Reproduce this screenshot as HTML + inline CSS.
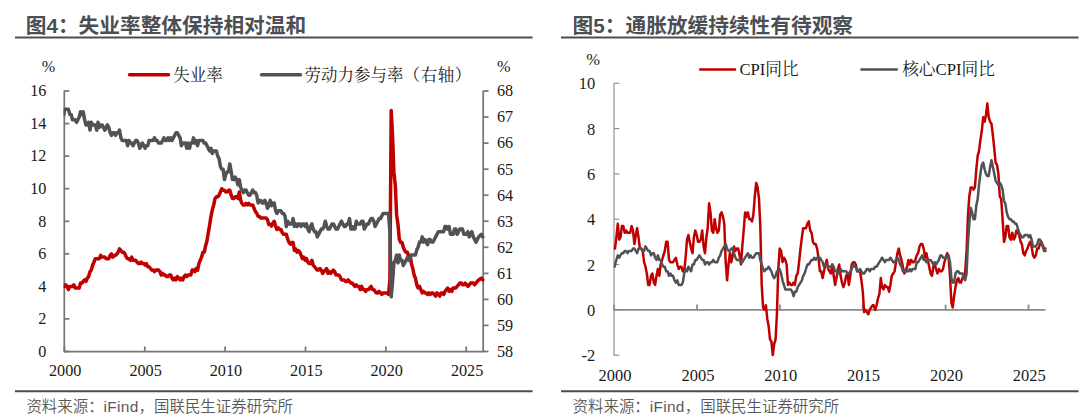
<!DOCTYPE html>
<html lang="zh"><head><meta charset="utf-8"><title>图4 图5</title>
<style>
html,body{margin:0;padding:0;background:#fff;}
body{width:1080px;height:419px;position:relative;overflow:hidden;font-family:"Liberation Sans","Noto Sans CJK SC",sans-serif;}
.title{position:absolute;top:11px;font-size:20.7px;font-weight:bold;color:#4b4f53;line-height:30px;white-space:nowrap;letter-spacing:0;}
.rule{position:absolute;height:2px;background:#4a4e52;}
.src{position:absolute;top:396.5px;font-size:15.45px;font-weight:350;color:#595959;line-height:20px;white-space:nowrap;}
.lt{letter-spacing:0.3px;}
svg{position:absolute;left:0;top:0;}
svg text{font-family:"Liberation Serif","Noto Serif CJK SC",serif;font-size:16.2px;fill:#1a1a1a;}
svg text.b{font-size:16.5px;}
svg text.c{font-size:16.7px;}
</style></head><body>
<div class="title" style="left:25.7px">图4：失业率整体保持相对温和</div>
<div class="title" style="left:572.6px">图5：通胀放缓持续性有待观察</div>
<div class="src" style="left:26.4px">资料来源：<span class="lt">iFind</span>，国联民生证券研究所</div>
<div class="src" style="left:572.6px">资料来源：<span class="lt">iFind</span>，国联民生证券研究所</div>
<svg width="1080" height="419" viewBox="0 0 1080 419">
<g stroke="#4a4e52" stroke-width="2" fill="none">
<line x1="15" y1="37.45" x2="532.6" y2="37.45"/><line x1="561" y1="37.45" x2="1078.5" y2="37.45"/>
<line x1="15" y1="391.3" x2="532.6" y2="391.3"/><line x1="561" y1="391.3" x2="1078.5" y2="391.3"/>
</g>
<g stroke="#767676" stroke-width="1.75" fill="none">
<line x1="64.3" y1="90.5" x2="64.3" y2="352.2"/><line x1="483.2" y1="90.5" x2="483.2" y2="352.2"/><line x1="64" y1="351.5" x2="484" y2="351.5"/>
<line x1="64.3" y1="351.5" x2="69.3" y2="351.5"/><line x1="64.3" y1="318.9" x2="69.3" y2="318.9"/><line x1="64.3" y1="286.4" x2="69.3" y2="286.4"/><line x1="64.3" y1="253.8" x2="69.3" y2="253.8"/><line x1="64.3" y1="221.3" x2="69.3" y2="221.3"/><line x1="64.3" y1="188.7" x2="69.3" y2="188.7"/><line x1="64.3" y1="156.1" x2="69.3" y2="156.1"/><line x1="64.3" y1="123.6" x2="69.3" y2="123.6"/><line x1="64.3" y1="91.0" x2="69.3" y2="91.0"/><line x1="483.5" y1="351.5" x2="488.5" y2="351.5"/><line x1="483.5" y1="325.4" x2="488.5" y2="325.4"/><line x1="483.5" y1="299.4" x2="488.5" y2="299.4"/><line x1="483.5" y1="273.4" x2="488.5" y2="273.4"/><line x1="483.5" y1="247.3" x2="488.5" y2="247.3"/><line x1="483.5" y1="221.2" x2="488.5" y2="221.2"/><line x1="483.5" y1="195.2" x2="488.5" y2="195.2"/><line x1="483.5" y1="169.2" x2="488.5" y2="169.2"/><line x1="483.5" y1="143.1" x2="488.5" y2="143.1"/><line x1="483.5" y1="117.0" x2="488.5" y2="117.0"/><line x1="483.5" y1="91.0" x2="488.5" y2="91.0"/><line x1="64.4" y1="351.5" x2="64.4" y2="346.5"/><line x1="144.8" y1="351.5" x2="144.8" y2="346.5"/><line x1="225.1" y1="351.5" x2="225.1" y2="346.5"/><line x1="305.5" y1="351.5" x2="305.5" y2="346.5"/><line x1="385.9" y1="351.5" x2="385.9" y2="346.5"/><line x1="466.2" y1="351.5" x2="466.2" y2="346.5"/>
</g>
<g stroke="#8e8e8e" stroke-width="1.15" fill="none">
<line x1="614" y1="83" x2="614" y2="355.7"/>
<line x1="614" y1="355.2" x2="619.3" y2="355.2"/><line x1="614" y1="309.9" x2="619.3" y2="309.9"/><line x1="614" y1="264.6" x2="619.3" y2="264.6"/><line x1="614" y1="219.2" x2="619.3" y2="219.2"/><line x1="614" y1="173.9" x2="619.3" y2="173.9"/><line x1="614" y1="128.6" x2="619.3" y2="128.6"/><line x1="614" y1="83.3" x2="619.3" y2="83.3"/>
</g>
<g stroke="#8a8a8a" stroke-width="1.8" fill="none">
<line x1="613.5" y1="309.8" x2="1045.5" y2="309.8"/>
<line x1="614.2" y1="309.8" x2="614.2" y2="304.6"/><line x1="697.1" y1="309.8" x2="697.1" y2="304.6"/><line x1="779.9" y1="309.8" x2="779.9" y2="304.6"/><line x1="862.8" y1="309.8" x2="862.8" y2="304.6"/><line x1="945.6" y1="309.8" x2="945.6" y2="304.6"/><line x1="1028.5" y1="309.8" x2="1028.5" y2="304.6"/>
</g>
<g>
<text x="46.4" y="356.8" text-anchor="end">0</text><text x="46.4" y="324.2" text-anchor="end">2</text><text x="46.4" y="291.7" text-anchor="end">4</text><text x="46.4" y="259.1" text-anchor="end">6</text><text x="46.4" y="226.6" text-anchor="end">8</text><text x="46.4" y="194.0" text-anchor="end">10</text><text x="46.4" y="161.4" text-anchor="end">12</text><text x="46.4" y="128.9" text-anchor="end">14</text><text x="46.4" y="96.3" text-anchor="end">16</text><text x="497" y="356.8">58</text><text x="497" y="330.8">59</text><text x="497" y="304.7">60</text><text x="497" y="278.7">61</text><text x="497" y="252.6">62</text><text x="497" y="226.6">63</text><text x="497" y="200.5">64</text><text x="497" y="174.5">65</text><text x="497" y="148.4">66</text><text x="497" y="122.3">67</text><text x="497" y="96.3">68</text><text x="65.2" y="376" text-anchor="middle">2000</text><text x="145.6" y="376" text-anchor="middle">2005</text><text x="225.9" y="376" text-anchor="middle">2010</text><text x="306.3" y="376" text-anchor="middle">2015</text><text x="386.7" y="376" text-anchor="middle">2020</text><text x="467.1" y="376" text-anchor="middle">2025</text>
<text x="41.7" y="72">%</text><text x="496.9" y="72">%</text>
<text class="b" x="595.3" y="361.2" text-anchor="end">-2</text><text class="b" x="595.3" y="315.9" text-anchor="end">0</text><text class="b" x="595.3" y="270.6" text-anchor="end">2</text><text class="b" x="595.3" y="225.2" text-anchor="end">4</text><text class="b" x="595.3" y="179.9" text-anchor="end">6</text><text class="b" x="595.3" y="134.6" text-anchor="end">8</text><text class="b" x="595.3" y="89.3" text-anchor="end">10</text><text class="b" x="615.0" y="380.5" text-anchor="middle">2000</text><text class="b" x="697.9" y="380.5" text-anchor="middle">2005</text><text class="b" x="780.7" y="380.5" text-anchor="middle">2010</text><text class="b" x="863.5" y="380.5" text-anchor="middle">2015</text><text class="b" x="946.4" y="380.5" text-anchor="middle">2020</text><text class="b" x="1029.2" y="380.5" text-anchor="middle">2025</text>
<text class="b" x="586.3" y="65.2">%</text>
<text class="b" x="173.3" y="80.7">失业率</text>
<text class="b" x="304.6" y="80.7">劳动力参与率<tspan letter-spacing="0.55">（右轴）</tspan></text>
<text class="c" x="739.4" y="75.3">CPI同比</text>
<text class="c" x="902.2" y="75.3">核心CPI同比</text>
</g>
<defs><clipPath id="k1"><rect x="63.6" y="40" width="440" height="330"/></clipPath><clipPath id="k2"><rect x="613.6" y="40" width="460" height="330"/></clipPath></defs>
<g fill="none" stroke-linejoin="round" stroke-linecap="round">
<line x1="129.5" y1="74.8" x2="168.5" y2="74.8" stroke="#c00000" stroke-width="3.5"/>
<line x1="261.5" y1="74.8" x2="300.5" y2="74.8" stroke="#505256" stroke-width="3.5"/>
<line x1="700.2" y1="69.6" x2="735" y2="69.6" stroke="#c00000" stroke-width="2.5"/>
<line x1="861.4" y1="69.6" x2="896.8" y2="69.6" stroke="#505256" stroke-width="2.5"/>
<polyline clip-path="url(#k1)" stroke="#c00000" stroke-width="3.5" points="64.0,286.4 64.4,286.4 65.7,284.8 67.1,286.4 68.4,289.6 69.8,286.4 71.1,286.4 72.5,286.4 73.8,284.8 75.2,288.0 76.5,288.0 77.9,288.0 79.2,288.0 80.5,283.1 81.9,283.1 83.2,281.5 84.6,279.9 85.9,281.5 87.3,278.2 88.6,276.6 90.0,271.7 91.3,270.1 92.6,265.2 94.0,262.0 95.3,258.7 96.7,258.7 98.0,258.7 99.4,258.7 100.7,255.4 102.1,257.1 103.4,257.1 104.8,257.1 106.1,258.7 107.4,258.7 108.8,258.7 110.1,255.4 111.5,253.8 112.8,257.1 114.2,255.4 115.5,255.4 116.9,253.8 118.2,252.2 119.5,248.9 120.9,250.6 122.2,252.2 123.6,252.2 124.9,253.8 126.3,257.1 127.6,258.7 129.0,258.7 130.3,260.3 131.7,257.1 133.0,260.3 134.3,260.3 135.7,260.3 137.0,262.0 138.4,263.6 139.7,263.6 141.1,262.0 142.4,263.6 143.8,263.6 145.1,265.2 146.4,263.6 147.8,266.8 149.1,266.8 150.5,268.5 151.8,270.1 153.2,270.1 154.5,271.7 155.9,270.1 157.2,270.1 158.6,270.1 159.9,271.7 161.2,275.0 162.6,273.4 163.9,275.0 165.3,275.0 166.6,276.6 168.0,276.6 169.3,275.0 170.7,275.0 172.0,278.2 173.3,279.9 174.7,278.2 176.0,279.9 177.4,276.6 178.7,278.2 180.1,279.9 181.4,278.2 182.8,279.9 184.1,276.6 185.5,275.0 186.8,276.6 188.1,275.0 189.5,275.0 190.8,275.0 192.2,270.1 193.5,270.1 194.9,271.7 196.2,268.5 197.6,270.1 198.9,263.6 200.2,260.3 201.6,257.1 202.9,252.2 204.3,252.2 205.6,245.7 207.0,240.8 208.3,232.7 209.7,224.5 211.0,216.4 212.3,209.9 213.7,205.0 215.0,198.5 216.4,196.8 217.7,196.8 219.1,195.2 220.4,192.0 221.8,188.7 223.1,190.3 224.5,190.3 225.8,192.0 227.1,192.0 228.5,190.3 229.8,190.3 231.2,195.2 232.5,198.5 233.9,198.5 235.2,196.8 236.6,196.8 237.9,198.5 239.3,192.0 240.6,200.1 241.9,203.4 243.3,205.0 244.6,205.0 246.0,203.4 247.3,205.0 248.7,203.4 250.0,205.0 251.4,205.0 252.7,205.0 254.0,208.2 255.4,211.5 256.7,213.1 258.1,216.4 259.4,216.4 260.8,218.0 262.1,218.0 263.5,218.0 264.8,218.0 266.1,218.0 267.5,219.6 268.8,224.5 270.2,224.5 271.5,226.1 272.9,222.9 274.2,221.3 275.6,226.1 276.9,229.4 278.3,227.8 279.6,229.4 280.9,229.4 282.3,232.7 283.6,234.3 285.0,234.3 286.3,234.3 287.7,239.2 289.0,242.4 290.4,244.1 291.7,242.4 293.1,242.4 294.4,250.6 295.7,248.9 297.1,252.2 298.4,250.6 299.8,252.2 301.1,255.4 302.5,258.7 303.8,257.1 305.2,260.3 306.5,258.7 307.8,262.0 309.2,263.6 310.5,263.6 311.9,260.3 313.2,265.2 314.6,266.8 315.9,268.5 317.3,270.1 318.6,270.1 320.0,268.5 321.3,270.1 322.6,273.4 324.0,271.7 325.3,270.1 326.7,268.5 328.0,273.4 329.4,271.7 330.7,273.4 332.1,271.7 333.4,270.1 334.7,271.7 336.1,275.0 337.4,275.0 338.8,275.0 340.1,276.6 341.5,279.9 342.8,279.9 344.2,279.9 345.5,281.5 346.9,281.5 348.2,279.9 349.5,281.5 350.9,283.1 352.2,283.1 353.6,284.8 354.9,286.4 356.3,284.8 357.6,286.4 359.0,286.4 360.3,289.6 361.6,286.4 363.0,289.6 364.3,289.6 365.7,291.3 367.0,289.6 368.4,289.6 369.7,288.0 371.1,286.4 372.4,289.6 373.8,289.6 375.1,291.3 376.4,292.9 377.8,292.9 379.1,291.3 380.5,292.9 381.8,294.5 383.2,292.9 384.5,292.9 385.9,292.9 387.2,292.9 388.5,294.5 389.9,279.9 391.2,110.6 392.6,136.6 393.9,172.4 395.3,185.4 396.6,214.7 398.0,224.5 399.3,239.2 400.6,242.4 402.0,242.4 403.3,247.3 404.7,250.6 406.0,252.2 407.4,252.2 408.7,257.1 410.1,255.4 411.4,263.6 412.8,268.5 414.1,275.0 415.4,278.2 416.8,284.8 418.1,288.0 419.5,286.4 420.8,289.6 422.2,292.9 423.5,291.3 424.9,292.9 426.2,292.9 427.6,294.5 428.9,292.9 430.2,294.5 431.6,292.9 432.9,292.9 434.3,294.5 435.6,296.1 437.0,292.9 438.3,294.5 439.7,296.1 441.0,292.9 442.3,292.9 443.7,294.5 445.0,291.3 446.4,289.6 447.7,288.0 449.1,291.3 450.4,289.6 451.8,291.3 453.1,288.0 454.5,288.0 455.8,288.0 457.1,286.4 458.5,284.8 459.8,283.1 461.2,283.1 462.5,284.8 463.9,284.8 465.2,283.1 466.6,284.8 467.9,286.4 469.2,284.8 470.6,283.1 471.9,283.1 473.3,283.1 474.6,284.8 476.0,283.1 477.3,281.5 478.7,279.9 480.0,279.1 481.4,278.2 482.7,279.9"/>
<polyline clip-path="url(#k1)" stroke="#505256" stroke-width="3.5" points="64.0,114.4 64.4,109.2 65.7,109.2 67.1,109.2 68.4,109.2 69.8,114.4 71.1,114.4 72.5,119.7 73.8,119.7 75.2,119.7 76.5,122.3 77.9,119.7 79.2,117.0 80.5,111.8 81.9,114.4 83.2,111.8 84.6,119.7 85.9,124.9 87.3,124.9 88.6,122.3 90.0,130.1 91.3,122.3 92.6,124.9 94.0,124.9 95.3,124.9 96.7,130.1 98.0,122.3 99.4,127.5 100.7,124.9 102.1,124.9 103.4,127.5 104.8,130.1 106.1,127.5 107.4,124.9 108.8,127.5 110.1,132.7 111.5,135.3 112.8,132.7 114.2,132.7 115.5,135.3 116.9,132.7 118.2,132.7 119.5,130.1 120.9,137.9 122.2,140.5 123.6,140.5 124.9,140.5 126.3,140.5 127.6,145.7 129.0,140.5 130.3,143.1 131.7,143.1 133.0,145.7 134.3,143.1 135.7,140.5 137.0,140.5 138.4,143.1 139.7,148.3 141.1,145.7 142.4,143.1 143.8,145.7 145.1,148.3 146.4,145.7 147.8,145.7 149.1,140.5 150.5,140.5 151.8,140.5 153.2,140.5 154.5,137.9 155.9,140.5 157.2,140.5 158.6,143.1 159.9,143.1 161.2,143.1 162.6,140.5 163.9,137.9 165.3,140.5 166.6,140.5 168.0,137.9 169.3,140.5 170.7,137.9 172.0,140.5 173.3,137.9 174.7,135.3 176.0,132.7 177.4,132.7 178.7,135.3 180.1,137.9 181.4,145.7 182.8,143.1 184.1,143.1 185.5,143.1 186.8,148.3 188.1,143.1 189.5,148.3 190.8,143.1 192.2,143.1 193.5,137.9 194.9,143.1 196.2,140.5 197.6,145.7 198.9,140.5 200.2,140.5 201.6,140.5 202.9,140.5 204.3,143.1 205.6,143.1 207.0,145.7 208.3,148.3 209.7,150.9 211.0,148.3 212.3,153.5 213.7,150.9 215.0,150.9 216.4,150.9 217.7,156.1 219.1,158.7 220.4,166.5 221.8,169.2 223.1,169.2 224.5,179.6 225.8,174.4 227.1,171.8 228.5,171.8 229.8,163.9 231.2,171.8 232.5,179.6 233.9,179.6 235.2,177.0 236.6,179.6 237.9,184.8 239.3,179.6 240.6,187.4 241.9,190.0 243.3,192.6 244.6,190.0 246.0,190.0 247.3,192.6 248.7,195.2 250.0,195.2 251.4,192.6 252.7,190.0 254.0,192.6 255.4,192.6 256.7,195.2 258.1,203.0 259.4,200.4 260.8,200.4 262.1,203.0 263.5,203.0 264.8,200.4 266.1,203.0 267.5,208.2 268.8,205.6 270.2,200.4 271.5,205.6 272.9,203.0 274.2,203.0 275.6,210.8 276.9,213.4 278.3,210.8 279.6,210.8 280.9,210.8 282.3,213.4 283.6,213.4 285.0,216.0 286.3,226.5 287.7,221.2 289.0,223.9 290.4,223.9 291.7,223.9 293.1,218.6 294.4,226.5 295.7,223.9 297.1,226.5 298.4,223.9 299.8,223.9 301.1,226.5 302.5,223.9 303.8,223.9 305.2,226.5 306.5,223.9 307.8,229.1 309.2,231.7 310.5,226.5 311.9,223.9 313.2,229.1 314.6,231.7 315.9,231.7 317.3,236.9 318.6,234.3 320.0,231.7 321.3,229.1 322.6,229.1 324.0,226.5 325.3,221.2 326.7,226.5 328.0,229.1 329.4,229.1 330.7,226.5 332.1,223.9 333.4,223.9 334.7,226.5 336.1,229.1 337.4,229.1 338.8,226.5 340.1,223.9 341.5,221.2 342.8,223.9 344.2,226.5 345.5,226.5 346.9,223.9 348.2,223.9 349.5,218.6 350.9,229.1 352.2,226.5 353.6,229.1 354.9,229.1 356.3,221.2 357.6,223.9 359.0,223.9 360.3,223.9 361.6,221.2 363.0,221.2 364.3,229.1 365.7,226.5 367.0,223.9 368.4,223.9 369.7,221.2 371.1,218.6 372.4,218.6 373.8,221.2 375.1,226.5 376.4,223.9 377.8,221.2 379.1,218.6 380.5,218.6 381.8,216.0 383.2,213.4 384.5,213.4 385.9,213.4 387.2,213.4 388.5,213.4 389.9,231.7 391.2,296.8 392.6,281.2 393.9,262.9 395.3,260.3 396.6,255.1 398.0,262.9 399.3,255.1 400.6,260.3 402.0,260.3 403.3,265.5 404.7,262.9 406.0,260.3 407.4,257.7 408.7,260.3 410.1,257.7 411.4,255.1 412.8,255.1 414.1,255.1 415.4,255.1 416.8,249.9 418.1,247.3 419.5,242.1 420.8,242.1 422.2,236.9 423.5,242.1 424.9,239.5 426.2,242.1 427.6,244.7 428.9,239.5 430.2,239.5 431.6,242.1 432.9,242.1 434.3,239.5 435.6,236.9 437.0,234.3 438.3,231.7 439.7,231.7 441.0,231.7 442.3,231.7 443.7,231.7 445.0,226.5 446.4,226.5 447.7,229.1 449.1,226.5 450.4,234.3 451.8,234.3 453.1,234.3 454.5,229.1 455.8,229.1 457.1,234.3 458.5,231.7 459.8,229.1 461.2,229.1 462.5,229.1 463.9,234.3 465.2,234.3 466.6,234.3 467.9,231.7 469.2,236.9 470.6,234.3 471.9,231.7 473.3,236.9 474.6,239.5 476.0,242.1 477.3,239.5 478.7,236.9 480.0,235.6 481.4,234.3 482.7,236.9"/>
<polyline clip-path="url(#k2)" stroke="#c00000" stroke-width="2.5" points="614.6,248.6 615.0,248.6 616.4,237.3 617.8,223.7 619.2,239.6 620.5,237.3 621.9,226.0 623.3,226.0 624.7,232.8 626.1,230.5 627.5,232.8 628.8,232.8 630.2,232.8 631.6,226.0 633.0,230.5 634.4,244.1 635.8,235.0 637.1,228.2 638.5,237.3 639.9,248.6 641.3,248.6 642.7,250.9 644.1,262.2 645.5,266.7 646.8,273.5 648.2,284.9 649.6,284.9 651.0,275.8 652.4,273.5 653.8,282.6 655.1,284.9 656.5,275.8 657.9,269.0 659.3,275.8 660.7,264.5 662.1,259.9 663.4,255.4 664.8,250.9 666.2,241.8 667.6,241.8 669.0,259.9 670.4,262.2 671.8,262.2 673.1,262.2 674.5,259.9 675.9,257.7 677.3,264.5 678.7,269.0 680.1,266.7 681.4,266.7 682.8,271.3 684.2,271.3 685.6,257.7 687.0,239.6 688.4,235.0 689.7,241.8 691.1,248.6 692.5,253.2 693.9,237.3 695.3,230.5 696.7,235.0 698.0,241.8 699.4,241.8 700.8,239.6 702.2,230.5 703.6,246.4 705.0,253.2 706.4,237.3 707.7,228.2 709.1,203.3 710.5,212.4 711.9,230.5 713.3,232.8 714.7,219.2 716.0,228.2 717.4,232.8 718.8,230.5 720.2,214.6 721.6,212.4 723.0,216.9 724.3,223.7 725.7,262.2 727.1,280.3 728.5,264.5 729.9,253.2 731.3,262.2 732.7,255.4 734.0,246.4 735.4,250.9 736.8,248.6 738.2,248.6 739.6,255.4 741.0,264.5 742.3,246.4 743.7,230.5 745.1,212.4 746.5,216.9 747.9,212.4 749.3,219.2 750.6,219.2 752.0,221.4 753.4,214.6 754.8,196.5 756.2,182.9 757.6,187.4 759.0,198.8 760.3,226.0 761.7,284.9 763.1,307.5 764.5,309.8 765.9,305.3 767.3,318.9 768.6,325.7 770.0,339.3 771.4,341.5 772.8,355.1 774.2,343.8 775.6,339.3 776.9,314.3 778.3,269.0 779.7,248.6 781.1,250.9 782.5,262.2 783.9,257.7 785.3,259.9 786.6,264.5 788.0,284.9 789.4,282.6 790.8,284.9 792.2,284.9 793.6,282.6 794.9,284.9 796.3,275.8 797.7,273.5 799.1,262.2 800.5,248.6 801.9,237.3 803.2,228.2 804.6,228.2 806.0,228.2 807.4,223.7 808.8,221.4 810.2,230.5 811.6,232.8 812.9,241.8 814.3,244.1 815.7,244.1 817.1,248.6 818.5,257.7 819.9,271.3 821.2,271.3 822.6,278.1 824.0,271.3 825.4,264.5 826.8,259.9 828.2,269.0 829.5,271.3 830.9,273.5 832.3,264.5 833.7,275.8 835.1,284.9 836.5,278.1 837.9,269.0 839.2,264.5 840.6,275.8 842.0,282.6 843.4,287.1 844.8,282.6 846.2,275.8 847.5,273.5 848.9,284.9 850.3,275.8 851.7,264.5 853.1,262.2 854.5,262.2 855.8,264.5 857.2,271.3 858.6,271.3 860.0,271.3 861.4,280.3 862.8,291.7 864.1,312.1 865.5,309.8 866.9,312.1 868.3,314.3 869.7,309.8 871.1,307.5 872.5,305.3 873.8,305.3 875.2,309.8 876.6,305.3 878.0,298.5 879.4,293.9 880.8,278.1 882.1,287.1 883.5,289.4 884.9,284.9 886.3,287.1 887.7,287.1 889.1,291.7 890.4,284.9 891.8,275.8 893.2,273.5 894.6,271.3 896.0,262.2 897.4,253.2 898.8,248.6 900.1,255.4 901.5,259.9 902.9,266.7 904.3,273.5 905.7,271.3 907.1,266.7 908.4,259.9 909.8,264.5 911.2,259.9 912.6,262.2 914.0,262.2 915.4,259.9 916.7,255.4 918.1,253.2 919.5,246.4 920.9,244.1 922.3,244.1 923.7,248.6 925.1,257.7 926.4,253.2 927.8,259.9 929.2,266.7 930.6,273.5 932.0,275.8 933.4,266.7 934.7,264.5 936.1,269.0 937.5,273.5 938.9,269.0 940.3,271.3 941.7,271.3 943.0,269.0 944.4,262.2 945.8,257.7 947.2,253.2 948.6,257.7 950.0,275.8 951.4,303.0 952.7,307.5 954.1,296.2 955.5,287.1 956.9,280.3 958.3,278.1 959.7,282.6 961.0,282.6 962.4,278.1 963.8,278.1 965.2,271.3 966.6,250.9 968.0,214.6 969.3,196.5 970.7,187.4 972.1,187.4 973.5,189.7 974.9,187.4 976.3,169.3 977.7,155.7 979.0,151.2 980.4,139.9 981.8,130.8 983.2,117.2 984.6,121.7 986.0,114.9 987.3,103.6 988.7,117.2 990.1,121.7 991.5,124.0 992.9,135.3 994.3,148.9 995.6,162.5 997.0,164.8 998.4,173.8 999.8,196.5 1001.2,198.8 1002.6,219.2 1004.0,241.8 1005.3,237.3 1006.7,226.0 1008.1,226.0 1009.5,237.3 1010.9,239.6 1012.3,232.8 1013.6,239.6 1015.0,237.3 1016.4,230.5 1017.8,232.8 1019.2,235.0 1020.6,241.8 1021.9,244.1 1023.3,253.2 1024.7,255.4 1026.1,250.9 1027.5,248.6 1028.9,244.1 1030.2,241.8 1031.6,246.4 1033.0,255.4 1034.4,257.7 1035.8,255.4 1037.2,248.6 1038.6,248.6 1039.9,244.1 1041.3,241.8 1042.7,245.2 1044.1,248.6 1045.5,248.6"/>
<polyline clip-path="url(#k2)" stroke="#505256" stroke-width="2.5" points="614.6,266.7 615.0,264.5 616.4,259.9 617.8,255.4 619.2,257.7 620.5,255.4 621.9,253.2 623.3,253.2 624.7,250.9 626.1,250.9 627.5,253.2 628.8,250.9 630.2,250.9 631.6,250.9 633.0,248.6 634.4,248.6 635.8,250.9 637.1,253.2 638.5,248.6 639.9,248.6 641.3,248.6 642.7,250.9 644.1,250.9 645.5,246.4 646.8,248.6 648.2,250.9 649.6,250.9 651.0,255.4 652.4,253.2 653.8,253.2 655.1,257.7 656.5,259.9 657.9,255.4 659.3,259.9 660.7,259.9 662.1,264.5 663.4,266.7 664.8,266.7 666.2,271.3 667.6,271.3 669.0,275.8 670.4,273.5 671.8,275.8 673.1,275.8 674.5,280.3 675.9,282.6 677.3,280.3 678.7,284.9 680.1,284.9 681.4,284.9 682.8,282.6 684.2,273.5 685.6,269.0 687.0,271.3 688.4,266.7 689.7,269.0 691.1,271.3 692.5,264.5 693.9,264.5 695.3,259.9 696.7,259.9 698.0,257.7 699.4,255.4 700.8,257.7 702.2,259.9 703.6,259.9 705.0,264.5 706.4,262.2 707.7,262.2 709.1,264.5 710.5,262.2 711.9,262.2 713.3,259.9 714.7,262.2 716.0,262.2 717.4,262.2 718.8,257.7 720.2,255.4 721.6,250.9 723.0,248.6 724.3,246.4 725.7,244.1 727.1,248.6 728.5,250.9 729.9,250.9 731.3,248.6 732.7,248.6 734.0,253.2 735.4,257.7 736.8,259.9 738.2,259.9 739.6,259.9 741.0,262.2 742.3,262.2 743.7,259.9 745.1,257.7 746.5,255.4 747.9,253.2 749.3,257.7 750.6,255.4 752.0,257.7 753.4,257.7 754.8,255.4 756.2,253.2 757.6,253.2 759.0,253.2 760.3,259.9 761.7,264.5 763.1,269.0 764.5,271.3 765.9,269.0 767.3,269.0 768.6,266.7 770.0,269.0 771.4,271.3 772.8,275.8 774.2,278.1 775.6,275.8 776.9,271.3 778.3,271.3 779.7,269.0 781.1,273.5 782.5,280.3 783.9,284.9 785.3,289.4 786.6,289.4 788.0,289.4 789.4,289.4 790.8,289.4 792.2,291.7 793.6,296.2 794.9,291.7 796.3,291.7 797.7,287.1 799.1,284.9 800.5,282.6 801.9,280.3 803.2,275.8 804.6,273.5 806.0,269.0 807.4,264.5 808.8,264.5 810.2,262.2 811.6,259.9 812.9,259.9 814.3,257.7 815.7,259.9 817.1,257.7 818.5,257.7 819.9,257.7 821.2,259.9 822.6,262.2 824.0,266.7 825.4,264.5 826.8,264.5 828.2,266.7 829.5,266.7 830.9,266.7 832.3,264.5 833.7,266.7 835.1,271.3 836.5,271.3 837.9,273.5 839.2,271.3 840.6,269.0 842.0,271.3 843.4,271.3 844.8,271.3 846.2,271.3 847.5,273.5 848.9,273.5 850.3,271.3 851.7,269.0 853.1,264.5 854.5,266.7 855.8,266.7 857.2,271.3 858.6,271.3 860.0,269.0 861.4,271.3 862.8,273.5 864.1,273.5 865.5,271.3 866.9,269.0 868.3,269.0 869.7,271.3 871.1,269.0 872.5,269.0 873.8,269.0 875.2,266.7 876.6,266.7 878.0,264.5 879.4,262.2 880.8,259.9 882.1,257.7 883.5,259.9 884.9,262.2 886.3,259.9 887.7,259.9 889.1,259.9 890.4,257.7 891.8,259.9 893.2,262.2 894.6,262.2 896.0,259.9 897.4,257.7 898.8,259.9 900.1,264.5 901.5,266.7 902.9,271.3 904.3,271.3 905.7,271.3 907.1,271.3 908.4,271.3 909.8,269.0 911.2,271.3 912.6,269.0 914.0,269.0 915.4,269.0 916.7,262.2 918.1,262.2 919.5,259.9 920.9,257.7 922.3,255.4 923.7,259.9 925.1,259.9 926.4,262.2 927.8,259.9 929.2,259.9 930.6,259.9 932.0,262.2 933.4,264.5 934.7,262.2 936.1,264.5 937.5,262.2 938.9,259.9 940.3,255.4 941.7,255.4 943.0,257.7 944.4,257.7 945.8,257.7 947.2,257.7 948.6,255.4 950.0,262.2 951.4,278.1 952.7,282.6 954.1,282.6 955.5,273.5 956.9,271.3 958.3,271.3 959.7,273.5 961.0,273.5 962.4,273.5 963.8,278.1 965.2,280.3 966.6,273.5 968.0,241.8 969.3,223.7 970.7,207.8 972.1,212.4 973.5,219.2 974.9,219.2 976.3,205.6 977.7,198.8 979.0,185.2 980.4,173.8 981.8,164.8 983.2,162.5 984.6,169.3 986.0,173.8 987.3,176.1 988.7,176.1 990.1,167.0 991.5,160.2 992.9,167.0 994.3,173.8 995.6,180.6 997.0,182.9 998.4,185.2 999.8,182.9 1001.2,185.2 1002.6,189.7 1004.0,201.0 1005.3,203.3 1006.7,212.4 1008.1,216.9 1009.5,219.2 1010.9,219.2 1012.3,221.4 1013.6,221.4 1015.0,223.7 1016.4,223.7 1017.8,228.2 1019.2,232.8 1020.6,235.0 1021.9,237.3 1023.3,237.3 1024.7,235.0 1026.1,235.0 1027.5,235.0 1028.9,237.3 1030.2,235.0 1031.6,239.6 1033.0,246.4 1034.4,246.4 1035.8,246.4 1037.2,244.1 1038.6,239.6 1039.9,239.6 1041.3,241.8 1042.7,246.4 1044.1,250.9 1045.5,250.9"/>
</g>
</svg>
</body></html>
